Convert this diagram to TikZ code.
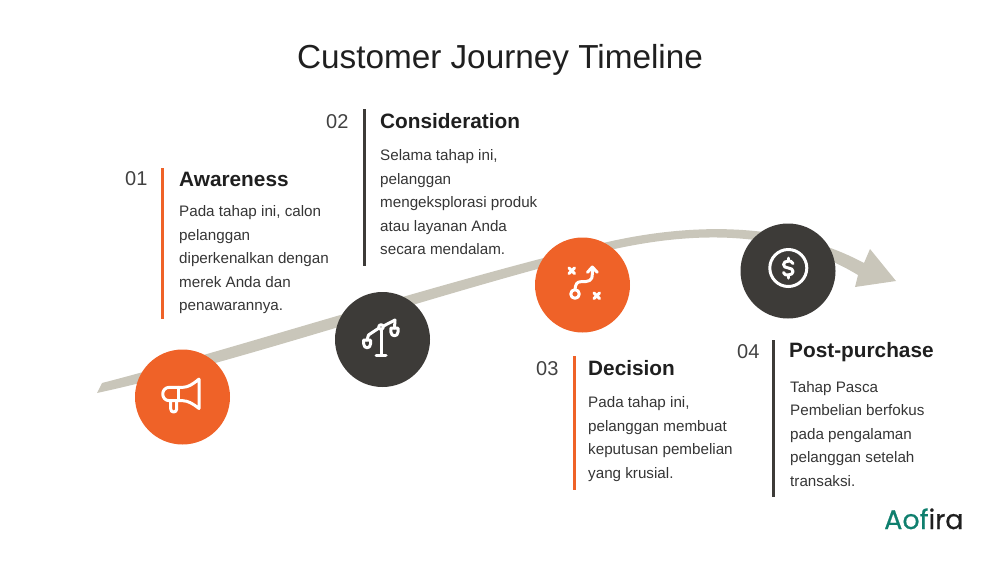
\documentclass[tikz,border=0pt]{standalone}
\usepackage{fontspec}
\setmainfont{Liberation Sans}
\newfontfamily\logofont[FakeBold=0.5]{Poppins}
\usetikzlibrary{arrows,arrows.meta}
\definecolor{accent}{HTML}{EF6228}
\definecolor{charcoal}{HTML}{3D3B38}
\definecolor{ribbon}{HTML}{C9C6BA}
\definecolor{ink}{HTML}{1F1F1F}
\definecolor{teal}{HTML}{0F7F6E}

\begin{document}
\begin{tikzpicture}[
  x=1pt,y=-1pt,
  onode/.style={circle,fill=accent,minimum size=95pt,inner sep=0pt},
  dnode/.style={circle,fill=charcoal,minimum size=95pt,inner sep=0pt},
  tnode/.style={anchor=base west,inner sep=0pt,text=ink,font=\fontsize{20.8}{24}\selectfont\bfseries},
  nnode/.style={anchor=base west,inner sep=0pt,text=ink!85,font=\fontsize{20}{24}\selectfont},
  bnode/.style={anchor=north west,inner sep=0pt,align=left,text=ink!90,font=\fontsize{15.2}{23.5}\selectfont},
  obar/.style={draw=accent,line width=3pt},
  dbar/.style={draw=charcoal,line width=3pt},
  icon/.style={draw=white,line width=3pt,line cap=round,line join=round}
]
  \useasboundingbox (0,0) rectangle (1000,563);

  % title
  \node[inner sep=0pt,text=ink,font=\fontsize{33.3}{40}\selectfont] (title) at (500,60) {Customer Journey Timeline};

  % ribbon
  \fill[ribbon] (102,383) .. controls (230,350) and (430,285) .. (603,243)
    .. controls (680,225) and (780,218) .. (864,263)
    -- (870,249) -- (896,281) -- (855,287) -- (858,275)
    .. controls (780,228) and (690,232) .. (610,250)
    .. controls (440,292) and (240,362) .. (97,393) -- cycle;

  % circles
  \node[onode] (c1) at (182.5,397) {};
  \node[dnode] (c2) at (382.5,339.5) {};
  \node[onode] (c3) at (582.5,285) {};
  \node[dnode] (c4) at (788,271) {};

  % bars
  \draw[obar] (162.5,168) -- (162.5,319);
  \draw[dbar] (364,109) -- (364,266);
  \draw[obar] (574,356) -- (574,490);
  \draw[dbar] (773.5,340) -- (773.5,497);

  % awareness
  \node[nnode] (n1) at (125,185) {01};
  \node[tnode] (t1) at (179,186) {Awareness};
  \node[bnode] (b1) at (179,205.5) {Pada tahap ini, calon\\pelanggan\\diperkenalkan dengan\\merek Anda dan\\penawarannya.};

  % consideration
  \node[nnode] (n2) at (326,128) {02};
  \node[tnode] (t2) at (380,128) {Consideration};
  \node[bnode] (b2) at (380,149.5) {Selama tahap ini,\\pelanggan\\mengeksplorasi produk\\atau layanan Anda\\secara mendalam.};

  % decision
  \node[nnode] (n3) at (536,375) {03};
  \node[tnode] (t3) at (588,375) {Decision};
  \node[bnode] (b3) at (588,396.5) {Pada tahap ini,\\pelanggan membuat\\keputusan pembelian\\yang krusial.};

  % post-purchase
  \node[nnode] (n4) at (737,358) {04};
  \node[tnode] (t4) at (789,357) {Post-purchase};
  \node[bnode] (b4) at (790,381) {Tahap Pasca\\Pembelian berfokus\\pada pengalaman\\pelanggan setelah\\transaksi.};

  % megaphone
  \draw[icon] (199,379) -- (199,408.5) .. controls (192,403) and (188,401) .. (183,400.7) -- (169.5,400.7)
    .. controls (160.5,400.7) and (160.5,387.3) .. (169.5,387.3) -- (183,387.3) .. controls (188,387) and (192,385) .. (199,379);
  \draw[icon] (178.5,387.3) -- (178.5,400.7);
  \draw[icon] (170.7,401) -- (170.7,409) .. controls (170.7,413) and (176.7,413) .. (176.7,409) -- (176.7,401);

  % scale
  \draw[icon] (381,329) -- (381,355);
  \draw[icon] (376,355) -- (386,355);
  \draw[icon] (368.5,335) -- (379,328);
  \draw[icon] (383.5,326) -- (395,320);
  \draw[icon] (381,327) circle (2.3);
  \draw[icon] (368.5,335) -- (367,340);
  \draw[icon] (395,320) -- (394.5,328);
  \draw[icon] (363.7,340) -- (370.5,340) -- (370.5,344) .. controls (370.5,349) and (363.7,349) .. (363.7,344) -- cycle;
  \draw[icon] (390.9,328) -- (398,328) -- (398,332) .. controls (398,337) and (390.9,337) .. (390.9,332) -- cycle;

  % route
  \draw[icon] (575,294) circle (4.3);
  \draw[icon] (575,289.5) .. controls (575.5,284) and (577,281.7) .. (581,281.7) .. controls (589,281.7) and (592.3,281) .. (592.3,274) -- (592.3,267.5);
  \draw[icon] (587.5,272.3) -- (592.3,267) -- (597.2,272.3);
  \draw[icon] (569,268) -- (574.5,273.5) (574.5,268) -- (569,273.5);
  \draw[icon] (594,293) -- (599.5,298.5) (599.5,293) -- (594,298.5);

  % coin
  \draw[icon] (788.3,268) circle (18.5);
  \draw[icon] (793,263.5) .. controls (792,261) and (790,261) .. (788.3,261) .. controls (782,261) and (782,268) .. (788.3,268)
    .. controls (794.6,268) and (794.6,275) .. (788.3,275) .. controls (786,275) and (784,275) .. (783.5,272.5);
  \draw[icon] (788.3,258) -- (788.3,261) (788.3,275) -- (788.3,278);

  % logo
  \node[anchor=base west,inner sep=0pt,font=\logofont\fontsize{27}{30}\selectfont] (logo) at (884,529) {\textcolor{teal}{Aof}\textcolor{ink}{ira}};
\end{tikzpicture}
\end{document}
